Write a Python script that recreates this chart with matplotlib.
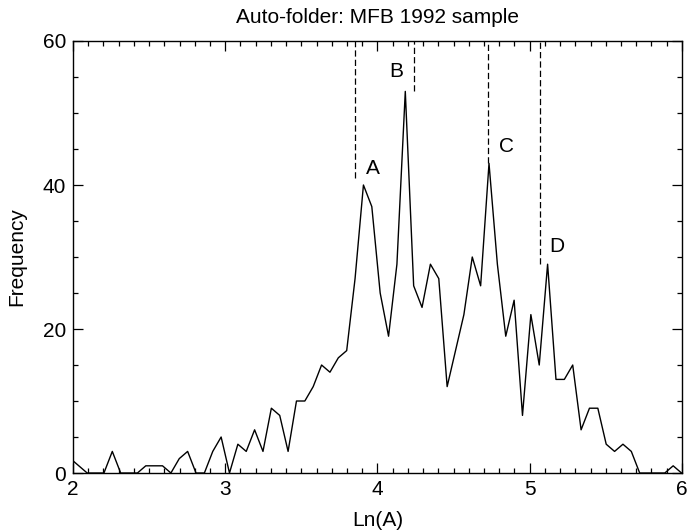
import numpy as np
import matplotlib
matplotlib.use("Agg")
import matplotlib.pyplot as plt

plt.rcParams["font.family"] = ["Liberation Sans", "DejaVu Sans"]

# histogram of ln(A), regular bins
bin_start = 1.983
bin_width = 0.055
freq = [2, 1, 0, 0, 0, 3, 0, 0, 0, 1,
        1, 1, 0, 2, 3, 0, 0, 3, 5, 0,
        4, 3, 6, 3, 9, 8, 3, 10, 10, 12,
        15, 14, 16, 17, 27, 40, 37, 25, 19, 29,
        53, 26, 23, 29, 27, 12, 17, 22, 30, 26,
        43, 29, 19, 24, 8, 22, 15, 29, 13, 13,
        15, 6, 9, 9, 4, 3, 4, 3, 0, 0,
        0, 0, 1, 0]

peak_labels = ["A", "B", "C", "D"]
peak_line_x = [3.853, 4.243, 4.728, 5.068]
peak_line_ymin = [41, 53, 43, 29]
peak_label_x = [3.967, 4.125, 4.846, 5.18]
peak_label_y = [42.3, 55.8, 45.3, 31.4]

g_xlim = [2, 6]
g_ylim = [0, 60]
g_fontsize = 15


def main():
    x = bin_start + bin_width * np.arange(len(freq))

    fig = plt.figure(figsize=(6.87, 5.31), dpi=100)
    ax = fig.add_axes([0.1063, 0.1092, 0.8862, 0.8136])

    ax.plot(x, freq, color="black", lw=1.0)

    for lx, ly in zip(peak_line_x, peak_line_ymin):
        ax.plot([lx, lx], [ly, 60], color="black", lw=0.9,
                linestyle=(0, (5, 2.5)))
    for lab, tx, ty in zip(peak_labels, peak_label_x, peak_label_y):
        ax.text(tx, ty, lab, fontsize=g_fontsize, ha="center", va="center")

    ax.set_xlim(g_xlim)
    ax.set_ylim(g_ylim)
    ax.set_xticks([2, 3, 4, 5, 6])
    ax.set_yticks([0, 20, 40, 60])
    ax.set_xticks(np.arange(2, 6.01, 0.1), minor=True)
    ax.set_yticks(np.arange(0, 60.1, 5), minor=True)
    ax.tick_params(which="both", direction="in", top=True, right=True,
                   labelsize=g_fontsize, width=0.9)
    ax.tick_params(which="major", length=7, pad=5)
    ax.tick_params(which="minor", length=3.5)
    for s in ax.spines.values():
        s.set_linewidth(1.0)

    ax.set_title("Auto-folder: MFB 1992 sample", fontsize=g_fontsize, pad=13)
    ax.set_xlabel("Ln(A)", fontsize=g_fontsize, labelpad=9)
    ax.set_ylabel("Frequency", fontsize=g_fontsize, labelpad=12)

    plt.savefig("out.png", dpi=100)


if __name__ == "__main__":
    main()
